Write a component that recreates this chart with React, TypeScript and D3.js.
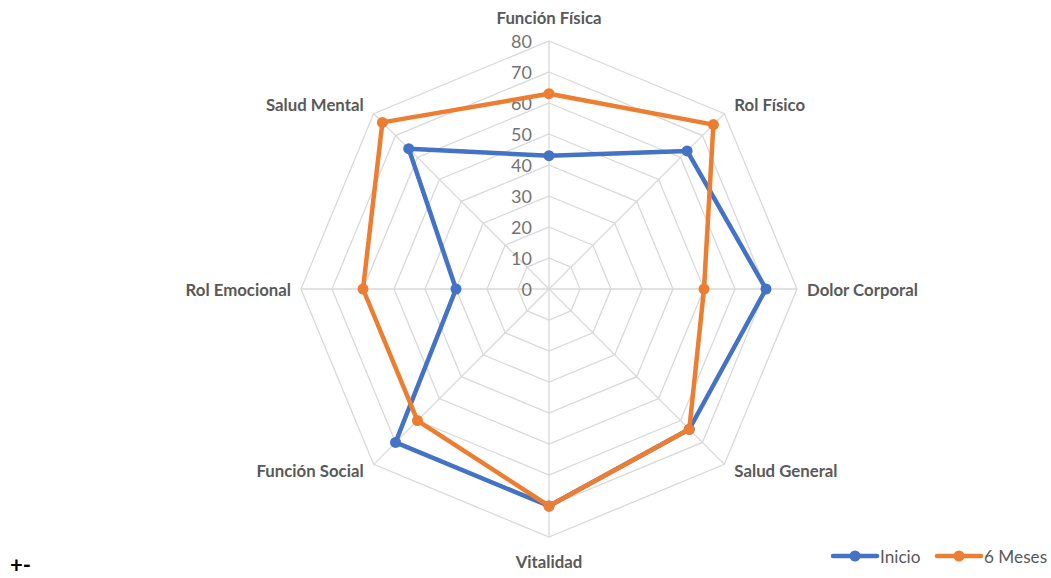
import React from "react";
import * as d3 from "d3";

const categories = [
  "Función Física",
  "Rol Físico",
  "Dolor Corporal",
  "Salud General",
  "Vitalidad",
  "Función Social",
  "Rol Emocional",
  "Salud Mental",
];
const inicio = [43, 63, 70, 64, 70, 70, 30, 64];
const seisMeses = [63, 75, 50, 64, 70, 60, 60, 76];
const ticks = [0, 10, 20, 30, 40, 50, 60, 70, 80];
const seriesNames = ["Inicio", "6 Meses"];
const colors = ["#4472C4", "#ED7D31"];

const W = 1051;
const H = 578;
const cx = 549;
const cy = 289;
const R = 248;

export default function App() {
  const r = d3.scaleLinear().domain([0, 80]).range([0, R]);
  const angle = d3
    .scaleLinear()
    .domain([0, categories.length])
    .range([0, 2 * Math.PI]);
  const pt = (i: number, v: number): [number, number] => {
    const a = angle(i);
    return [cx + r(v) * Math.sin(a), cy - r(v) * Math.cos(a)];
  };
  const lineGen = d3
    .line<[number, number]>()
    .x((d) => d[0])
    .y((d) => d[1])
    .curve(d3.curveLinearClosed);

  const series = [inicio, seisMeses];
  const font = "Lato, 'Liberation Sans', sans-serif";

  return (
    <svg
      width={W}
      height={H}
      style={{ position: "absolute", left: 0, top: 0, background: "#fff" }}
    >
      {/* grid rings */}
      {ticks.slice(1).map((t) => (
        <path
          key={t}
          d={lineGen(categories.map((_, i) => pt(i, t))) || ""}
          fill="none"
          stroke="#d9d9d9"
          strokeWidth={1.3}
        />
      ))}
      {/* spokes */}
      {categories.map((_, i) => {
        const [x, y] = pt(i, 80);
        return (
          <line
            key={i}
            x1={cx}
            y1={cy}
            x2={x}
            y2={y}
            stroke="#d9d9d9"
            strokeWidth={1.3}
          />
        );
      })}
      {/* tick labels */}
      {ticks.map((t) => (
        <text
          key={t}
          x={cx - 17}
          y={cy - r(t)}
          textAnchor="end"
          dominantBaseline="central"
          fontFamily={font}
          fontSize={18}
          fill="#737373"
        >
          {t}
        </text>
      ))}
      {/* category labels */}
      {categories.map((c, i) => {
        const a = angle(i);
        const s = Math.sin(a);
        const co = Math.cos(a);
        const [vx, vy] = pt(i, 80);
        let dx = 0;
        let dy = 0;
        let anchor: "start" | "end" | "middle" = "middle";
        if (Math.abs(s) < 0.1) {
          dy = -co * 24;
        } else {
          anchor = s > 0 ? "start" : "end";
          dx = s > 0 ? 10 : -10;
          dy = Math.abs(co) < 0.1 ? 0 : co > 0 ? -co * 12.7 : -co * 8.5;
        }
        return (
          <text
            key={c}
            x={vx + dx}
            y={vy + dy}
            textAnchor={anchor}
            dominantBaseline="central"
            fontFamily={font}
            fontWeight="bold"
            fontSize={16.8}
            fill="#595959"
          >
            {c}
          </text>
        );
      })}
      {/* series */}
      {series.map((vals, si) => (
        <g key={si}>
          <path
            d={lineGen(vals.map((v, i) => pt(i, v))) || ""}
            fill="none"
            stroke={colors[si]}
            strokeWidth={4.5}
            strokeLinejoin="round"
          />
          {vals.map((v, i) => {
            const [x, y] = pt(i, v);
            return <circle key={i} cx={x} cy={y} r={5.5} fill={colors[si]} />;
          })}
        </g>
      ))}
      {/* legend */}
      {seriesNames.map((n, si) => {
        const x0 = si === 0 ? 833 : 937;
        const y0 = 556;
        return (
          <g key={n}>
            <line
              x1={x0}
              x2={x0 + 44}
              y1={y0}
              y2={y0}
              stroke={colors[si]}
              strokeWidth={4.5}
              strokeLinecap="round"
            />
            <circle cx={x0 + 22} cy={y0} r={5.5} fill={colors[si]} />
            <text
              x={x0 + 47}
              y={y0}
              dominantBaseline="central"
              fontFamily={font}
              fontSize={17.2}
              fill="#595959"
            >
              {n}
            </text>
          </g>
        );
      })}
      <text
        x={10}
        y={573}
        fontFamily={font}
        fontWeight="bold"
        fontSize={22}
        fill="#000"
      >
        +-
      </text>
    </svg>
  );
}
